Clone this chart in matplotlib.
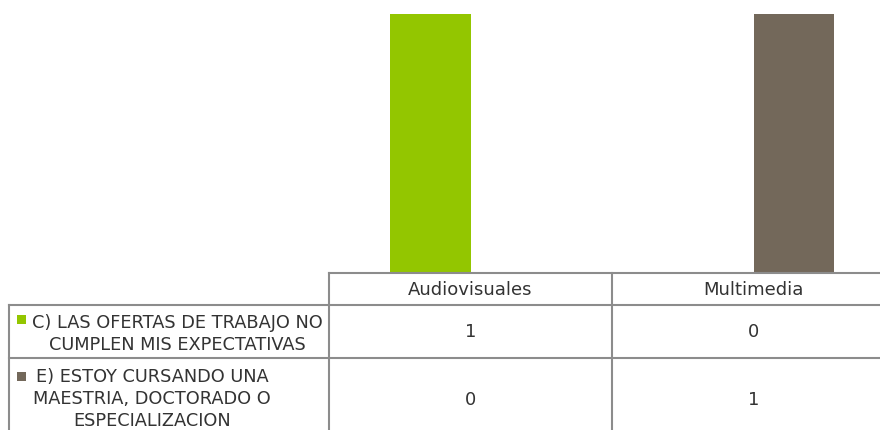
import matplotlib
matplotlib.use("Agg")
import matplotlib.pyplot as plt
from matplotlib.transforms import Affine2D
from matplotlib.lines import Line2D
from matplotlib.patches import Rectangle

categories = ["Audiovisuales", "Multimedia"]
series_names = [
    "C) LAS OFERTAS DE TRABAJO NO\nCUMPLEN MIS EXPECTATIVAS",
    "E) ESTOY CURSANDO UNA\nMAESTRIA, DOCTORADO O\nESPECIALIZACION",
]
series_values = [
    [1, 0],
    [0, 1],
]
colors = ["#93C600", "#73685A"]

W, H = 880, 431
LINE = "#8C8C8C"
TEXT = "#333333"

fig = plt.figure(figsize=(W / 100, H / 100), dpi=100)
px = Affine2D().scale(1 / W, -1 / H).translate(0, 1) + fig.transFigure

# plot area (extends a bit past the right edge like the original)
left, right, top, base = 329, 895, 15, 274
ax = fig.add_axes([left / W, (H - base) / H, (right - left) / W, (base - top) / H])
ax.set_xlim(-0.5, len(categories) - 0.5)
ax.set_ylim(0, 1)
ax.axis("off")

bw = 0.286
n = len(series_values)
for i, vals in enumerate(series_values):
    xs = [k + (i - (n - 1) / 2) * bw for k in range(len(categories))]
    ax.bar(xs, vals, width=bw, color=colors[i], linewidth=0)

# data table below the bars
col_w = (right - left) / len(categories)
row_edges = [base, 306, 359, 441]
label_left = 9


def hline(x0, x1, y):
    fig.add_artist(Line2D([x0, x1], [y, y], transform=px, color=LINE, lw=1.5))


def vline(x, y0, y1):
    fig.add_artist(Line2D([x, x], [y0, y1], transform=px, color=LINE, lw=1.5))


hline(left, W, row_edges[0])
for y in row_edges[1:3]:
    hline(label_left, W, y)
vline(label_left, row_edges[1], H)
for k in range(len(categories)):
    vline(left + k * col_w, row_edges[0], H)

for k, cat in enumerate(categories):
    cx = left + (k + 0.5) * col_w
    fig.text(cx, (row_edges[0] + row_edges[1]) / 2, cat, transform=px,
             ha="center", va="center", fontsize=13, color=TEXT)
    for i, vals in enumerate(series_values):
        cy = (row_edges[i + 1] + row_edges[i + 2]) / 2 if i == 0 else 400
        fig.text(cx, cy, str(vals[k]), transform=px,
                 ha="center", va="center", fontsize=13, color=TEXT)

label_pos = [(177, 334), (152, 399)]
key_y = [316, 373]
for i, name in enumerate(series_names):
    tx, ty = label_pos[i]
    fig.text(tx, ty, name, transform=px, ha="center", va="center",
             fontsize=12.8, color=TEXT, linespacing=1.28, multialignment="center")
    fig.add_artist(Rectangle((17, key_y[i]), 9, 9, transform=px,
                             color=colors[i], linewidth=0))

fig.savefig("out.png", dpi=100)
